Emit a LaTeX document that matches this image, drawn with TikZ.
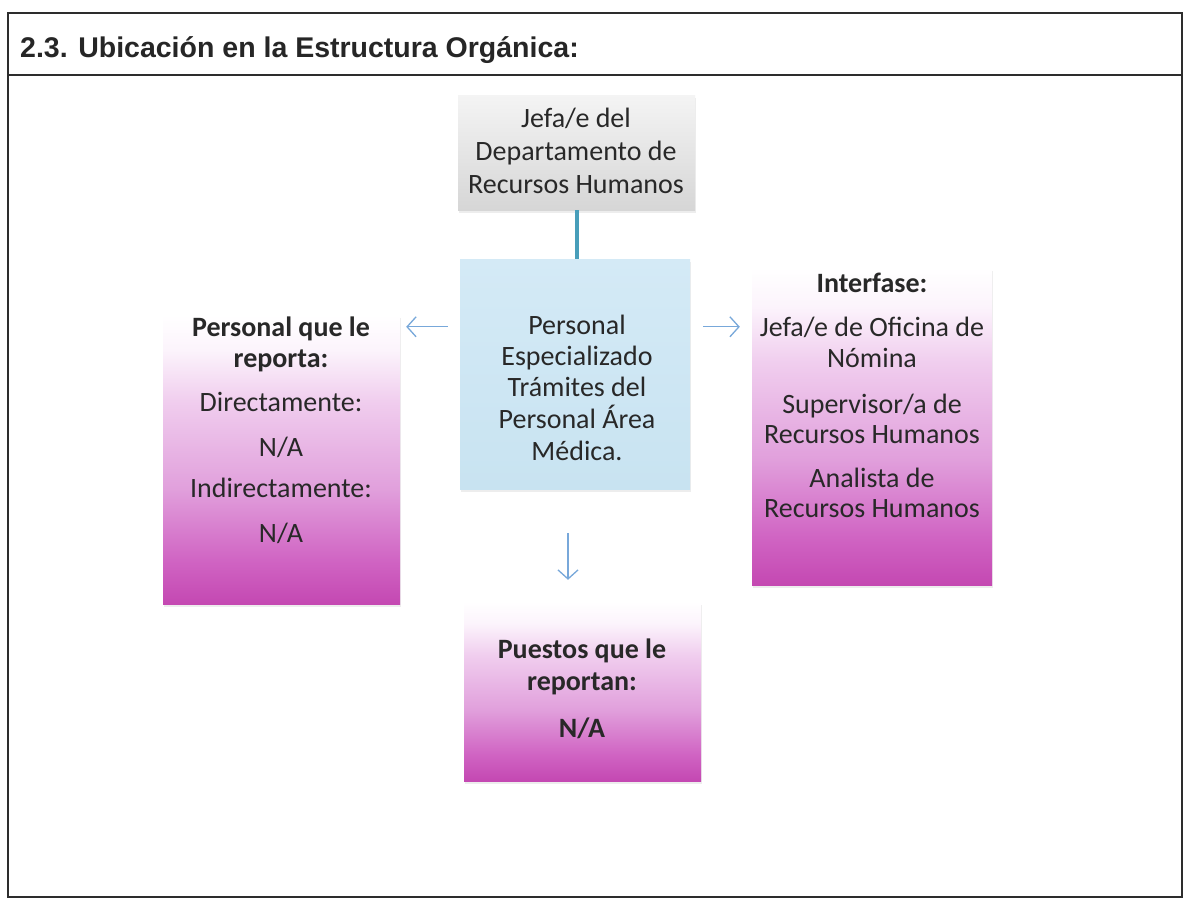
\documentclass[tikz,border=0pt]{standalone}
\usepackage{fontspec}
\setmainfont{Carlito}
\newfontfamily\arialfont{Liberation Sans}
\usetikzlibrary{arrows.meta,shadows,calc}
\definecolor{mag}{RGB}{196,72,178}
\definecolor{magA}{RGB}{208,100,195}
\definecolor{magB}{RGB}{225,160,220}
\definecolor{magC}{RGB}{240,205,238}
\definecolor{magD}{RGB}{252,244,252}
\definecolor{grayT}{RGB}{244,244,244}
\definecolor{grayB}{RGB}{214,214,214}
\definecolor{bluebox}{RGB}{200,227,241}
\definecolor{bluetop}{RGB}{212,234,246}
\definecolor{teal}{RGB}{72,158,186}
\definecolor{arrowc}{RGB}{120,168,218}
\definecolor{textc}{RGB}{40,40,40}
\definecolor{framec}{RGB}{45,45,45}
\pgfdeclareverticalshading{magfade}{100bp}{color(0bp)=(mag); color(25bp)=(mag); color(32.5bp)=(magA); color(45bp)=(magB); color(60bp)=(magC); color(69bp)=(magD); color(75bp)=(white); color(100bp)=(white)}
\pgfdeclareverticalshading{grayfade}{100bp}{color(0bp)=(grayB); color(25bp)=(grayB); color(75bp)=(grayT); color(100bp)=(grayT)}
\pgfdeclareverticalshading{bluefade}{100bp}{color(0bp)=(bluebox); color(25bp)=(bluebox); color(75bp)=(bluetop); color(100bp)=(bluetop)}
\tikzset{
  box/.style={rectangle, inner sep=0pt, draw=none,
    drop shadow={opacity=0.14, shadow xshift=1pt, shadow yshift=-3pt}},
  magbox/.style={box, shading=magfade},
  graybox/.style={box, shading=grayfade},
  bluebx/.style={box, shading=bluefade},
  txt/.style={anchor=base, inner sep=0pt, text=textc, font=\fontsize{28}{33}\selectfont},
  btxt/.style={txt, font=\bfseries\fontsize{28}{33}\selectfont},
  arr/.style={draw=arrowc, line width=1.3pt, -{Straight Barb[length=9pt,width=20pt,line width=1.3pt]}},
  frame/.style={draw=framec, line width=2pt}
}
\begin{document}
\begin{tikzpicture}[x=1pt,y=-1pt]
\useasboundingbox (0,0) rectangle (1189,903);
\fill[white] (0,0) rectangle (1189,903);
% frame
\draw[frame] (8,13) rectangle (1182,897);
\draw[frame] (8,75) -- (1182,75);
\node[anchor=base west, inner sep=0pt, text=black!85, font=\arialfont\bfseries\fontsize{28.5}{32}\selectfont] (titulo) at (20,57) {2.3. Ubicación en la Estructura Orgánica:};

% boxes
\node[graybox, minimum width=237pt, minimum height=115pt] (jefe) at (576.5,152.5) {};
\node[bluebx, minimum width=230pt, minimum height=230pt] (centro) at (575,374) {};
\node[magbox, minimum width=237pt, minimum height=289pt] (izq) at (281.5,459.5) {};
\node[magbox, minimum width=240pt, minimum height=317pt] (der) at (872,426.5) {};
\node[magbox, minimum width=237pt, minimum height=179pt] (inf) at (582.5,691.5) {};

% connectors
\draw[teal, line width=4pt] (jefe.south) -- (jefe.south |- centro.north);
\draw[arr] ($(centro.north west)+(-12,68)$) -- ($(izq.north east)+(6,12)$);
\draw[arr] ($(centro.north east)+(13,68)$) -- ($(der.north west)+(-12,59)$);
\draw[arr] ($(centro.south)+(-7,44)$) -- ($(inf.north)+(-14.5,-22)$);

% top box text
\node[txt] (j1) at (576,127) {Jefa/e del};
\node[txt] (j2) at (576,160) {Departamento de};
\node[txt] (j3) at (576,193) {Recursos Humanos};

% centre box text
\node[txt] (c1) at (577,334) {Personal};
\node[txt] (c2) at (577,365) {Especializado};
\node[txt] (c3) at (577,396) {Trámites del};
\node[txt] (c4) at (577,428) {Personal Área};
\node[txt] (c5) at (577,460) {Médica.};

% left box text
\node[btxt] (l1) at (281,336) {Personal que le};
\node[btxt] (l2) at (281,367) {reporta:};
\node[txt] (l3) at (281,411) {Directamente:};
\node[txt] (l4) at (281,456) {N/A};
\node[txt] (l5) at (281,497) {Indirectamente:};
\node[txt] (l6) at (281,542) {N/A};

% right box text
\node[btxt] (r1) at (872,292) {Interfase:};
\node[txt] (r2) at (872,336) {Jefa/e de Oficina de};
\node[txt] (r3) at (872,367) {Nómina};
\node[txt] (r4) at (872,413) {Supervisor/a de};
\node[txt] (r5) at (872,443) {Recursos Humanos};
\node[txt] (r6) at (872,487) {Analista de};
\node[txt] (r7) at (872,517) {Recursos Humanos};

% bottom box text
\node[btxt] (b1) at (582,658) {Puestos que le};
\node[btxt] (b2) at (582,690) {reportan:};
\node[btxt] (b3) at (582,737) {N/A};
\end{tikzpicture}
\end{document}
